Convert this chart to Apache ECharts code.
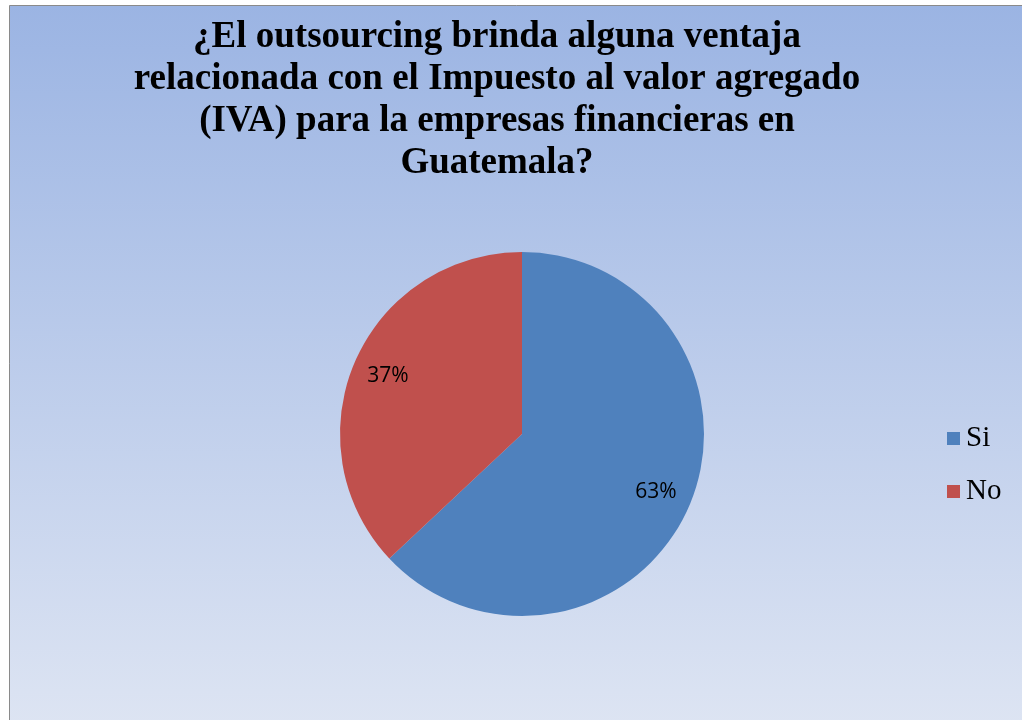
<!DOCTYPE html>
<html>
<head>
<meta charset="utf-8">
<script src="https://cdn.jsdelivr.net/npm/echarts@6/dist/echarts.min.js"></script>
<style>
  html, body { margin: 0; padding: 0; background: #fff; }
  #chart { width: 1022px; height: 720px; }
</style>
</head>
<body>
<div id="chart"></div>
<script>
var title_text = '¿El outsourcing brinda alguna ventaja\nrelacionada con el Impuesto al valor agregado\n(IVA) para la empresas financieras en\nGuatemala?';
var answer_names = ['Si', 'No'];
var answer_values = [63, 37];
var answer_colors = ['#4F81BD', '#C0504D'];

function draw_pie_chart() {
  var pie_chart = echarts.init(document.getElementById('chart'));
  var pie_data = [];
  for (var i = 0; i < answer_names.length; i++) {
    pie_data.push({
      value: answer_values[i],
      name: answer_names[i],
      itemStyle: { color: answer_colors[i] }
    });
  }

  var option = {
    animation: false,
    graphic: [{
      type: 'rect',
      z: -10,
      shape: { x: 9.5, y: 5.5, width: 1030, height: 730 },
      style: {
        fill: {
          type: 'linear', x: 0, y: 0, x2: 0, y2: 1,
          colorStops: [
            { offset: 0, color: '#9BB4E3' },
            { offset: 1, color: '#DEE5F3' }
          ]
        },
        stroke: '#8a8a8a',
        lineWidth: 1
      }
    }],
    title: {
      text: title_text,
      left: 492,
      textAlign: 'center',
      top: 11,
      textStyle: {
        fontFamily: 'Liberation Serif',
        fontWeight: 'bold',
        fontSize: 37,
        lineHeight: 42,
        color: '#000'
      }
    },
    legend: {
      data: answer_names,
      orient: 'vertical',
      left: 942,
      top: 419,
      itemWidth: 13,
      itemHeight: 13,
      itemGap: 24,
      icon: 'rect',
      textStyle: {
        fontFamily: 'Liberation Serif',
        fontSize: 29,
        color: '#000',
        padding: [0, 0, 0, 1]
      }
    },
    series: [{
      name: 'Respuesta',
      type: 'pie',
      radius: [0, 182],
      center: [522, 434],
      startAngle: 90,
      clockwise: true,
      data: pie_data,
      itemStyle: { borderWidth: 0 },
      label: { show: false },
      labelLine: { show: false },
      silent: true
    }, {
      // transparent ring only used to put the labels further out
      name: 'Etiquetas',
      type: 'pie',
      radius: [104, 182],
      center: [522, 434],
      startAngle: 90,
      clockwise: true,
      silent: true,
      data: answer_names.map(function (d, i) {
        return { value: answer_values[i], name: d, itemStyle: { color: 'rgba(0,0,0,0)', borderWidth: 0 } };
      }),
      label: {
        show: true,
        position: 'inside',
        formatter: '{d}%',
        fontFamily: 'Open Sans',
        fontSize: 21,
        color: '#000'
      },
      labelLine: { show: false }
    }]
  };
  pie_chart.setOption(option);
}

draw_pie_chart();
</script>
</body>
</html>
